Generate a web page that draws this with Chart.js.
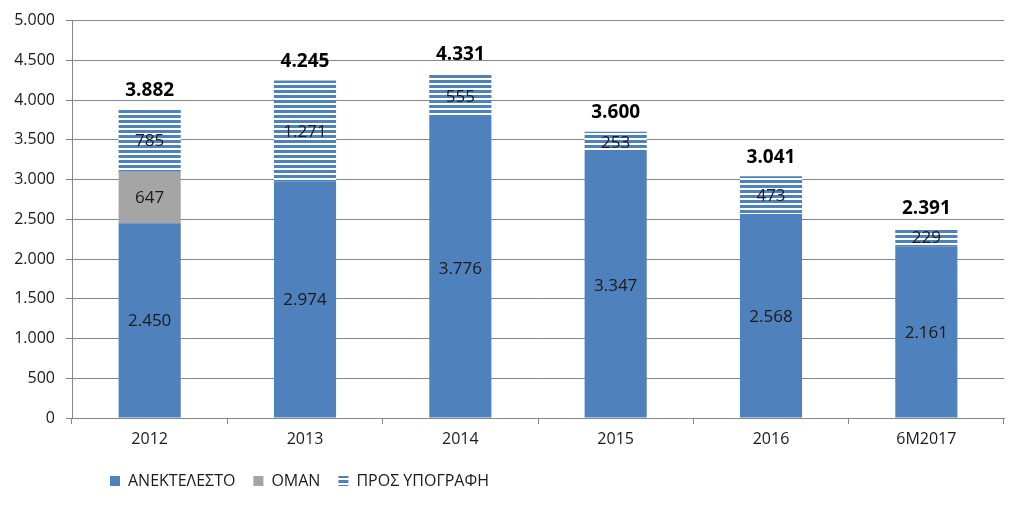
<!DOCTYPE html>
<html>
<head>
<meta charset="utf-8">
<script src="https://cdn.jsdelivr.net/npm/chart.js@4.4.0/dist/chart.umd.min.js"></script>
<style>
  html, body { margin: 0; padding: 0; background: #fff; }
  #wrap { width: 1024px; height: 510px; }
</style>
</head>
<body>
<div id="wrap"><canvas id="chart"></canvas></div>
<script>
const years = ["2012", "2013", "2014", "2015", "2016", "6M2017"];
const anektelesto = [2450, 2974, 3776, 3347, 2568, 2161];
const oman = [647, null, null, null, null, null];
const prosYpografi = [785, 1271, 555, 253, 473, 229];
const totals = [3882, 4245, 4331, 3600, 3041, 2391];

const FONT = "'Open Sans', 'Noto Sans', sans-serif";
const blue = "#4F81BD";
const grey = "#A5A5A5";
const gridColor = "#868686";

// thousands with a dot, like 2.450
function fmt(v) {
  return String(v).replace(/\B(?=(\d{3})+(?!\d))/g, ".");
}

// horizontal stripes for the "ΠΡΟΣ ΥΠΟΓΡΑΦΗ" part
function stripes() {
  const c = document.createElement("canvas");
  c.width = 5;
  c.height = 5;
  const g = c.getContext("2d");
  g.fillStyle = "#ffffff";
  g.fillRect(0, 0, 5, 5);
  g.fillStyle = blue;
  g.fillRect(0, 0, 5, 3);
  return g.createPattern(c, "repeat");
}
const stripePattern = stripes();

const labelPlugin = {
  id: "labels",
  afterLayout(chart) {
    // legend sits a bit right of the plot's left edge
    chart.legend.left += 20;
    chart.legend.right += 20;
  },
  afterDatasetsDraw(chart) {
    const c = chart.ctx;
    c.save();
    c.textAlign = "center";
    c.textBaseline = "middle";
    c.fillStyle = "#1a1a1a";
    c.font = "17px " + FONT;
    chart.data.datasets.forEach((ds, i) => {
      const meta = chart.getDatasetMeta(i);
      meta.data.forEach((bar, j) => {
        const v = ds.data[j];
        if (!v) return;
        c.fillText(fmt(v), bar.x, (bar.y + bar.base) / 2 + 1);
      });
    });
    // totals above the bars
    const last = chart.getDatasetMeta(chart.data.datasets.length - 1);
    c.font = "bold 19px " + FONT;
    c.fillStyle = "#000";
    last.data.forEach((bar, j) => {
      c.fillText(fmt(totals[j]), bar.x, bar.y - 19);
    });
    c.restore();
  }
};

new Chart(document.getElementById("chart"), {
  type: "bar",
  data: {
    labels: years,
    datasets: [
      { label: "ΑΝΕΚΤΕΛΕΣΤΟ", data: anektelesto, backgroundColor: blue },
      { label: "ΟΜΑΝ", data: oman, backgroundColor: grey },
      { label: "ΠΡΟΣ ΥΠΟΓΡΑΦΗ", data: prosYpografi, backgroundColor: stripePattern }
    ]
  },
  plugins: [labelPlugin],
  options: {
    responsive: true,
    maintainAspectRatio: false,
    animation: false,
    layout: { padding: { top: 15, right: 20, left: 0, bottom: 11 } },
    datasets: {
      bar: { categoryPercentage: 1, barPercentage: 0.4 }
    },
    scales: {
      x: {
        stacked: true,
        grid: { offset: true, drawOnChartArea: false, color: gridColor, tickLength: 6 },
        border: { color: gridColor },
        ticks: { color: "#1a1a1a", font: { family: FONT, size: 16 }, padding: 6 },
        afterFit(s) { s.height = 37; }
      },
      y: {
        stacked: true,
        min: 0,
        max: 5000,
        ticks: {
          stepSize: 500,
          color: "#1a1a1a",
          font: { family: FONT, size: 16 },
          padding: 11,
          callback: (v) => fmt(v)
        },
        grid: { color: gridColor, tickLength: 6 },
        border: { color: gridColor },
        afterFit(s) { s.width = 72; }
      }
    },
    plugins: {
      tooltip: { enabled: false },
      legend: {
        position: "bottom",
        align: "start",
        fullSize: false,
        labels: {
          boxWidth: 10,
          boxHeight: 10,
          padding: 18,
          color: "#1a1a1a",
          font: { family: FONT, size: 16 }
        }
      }
    }
  }
});
</script>
</body>
</html>
